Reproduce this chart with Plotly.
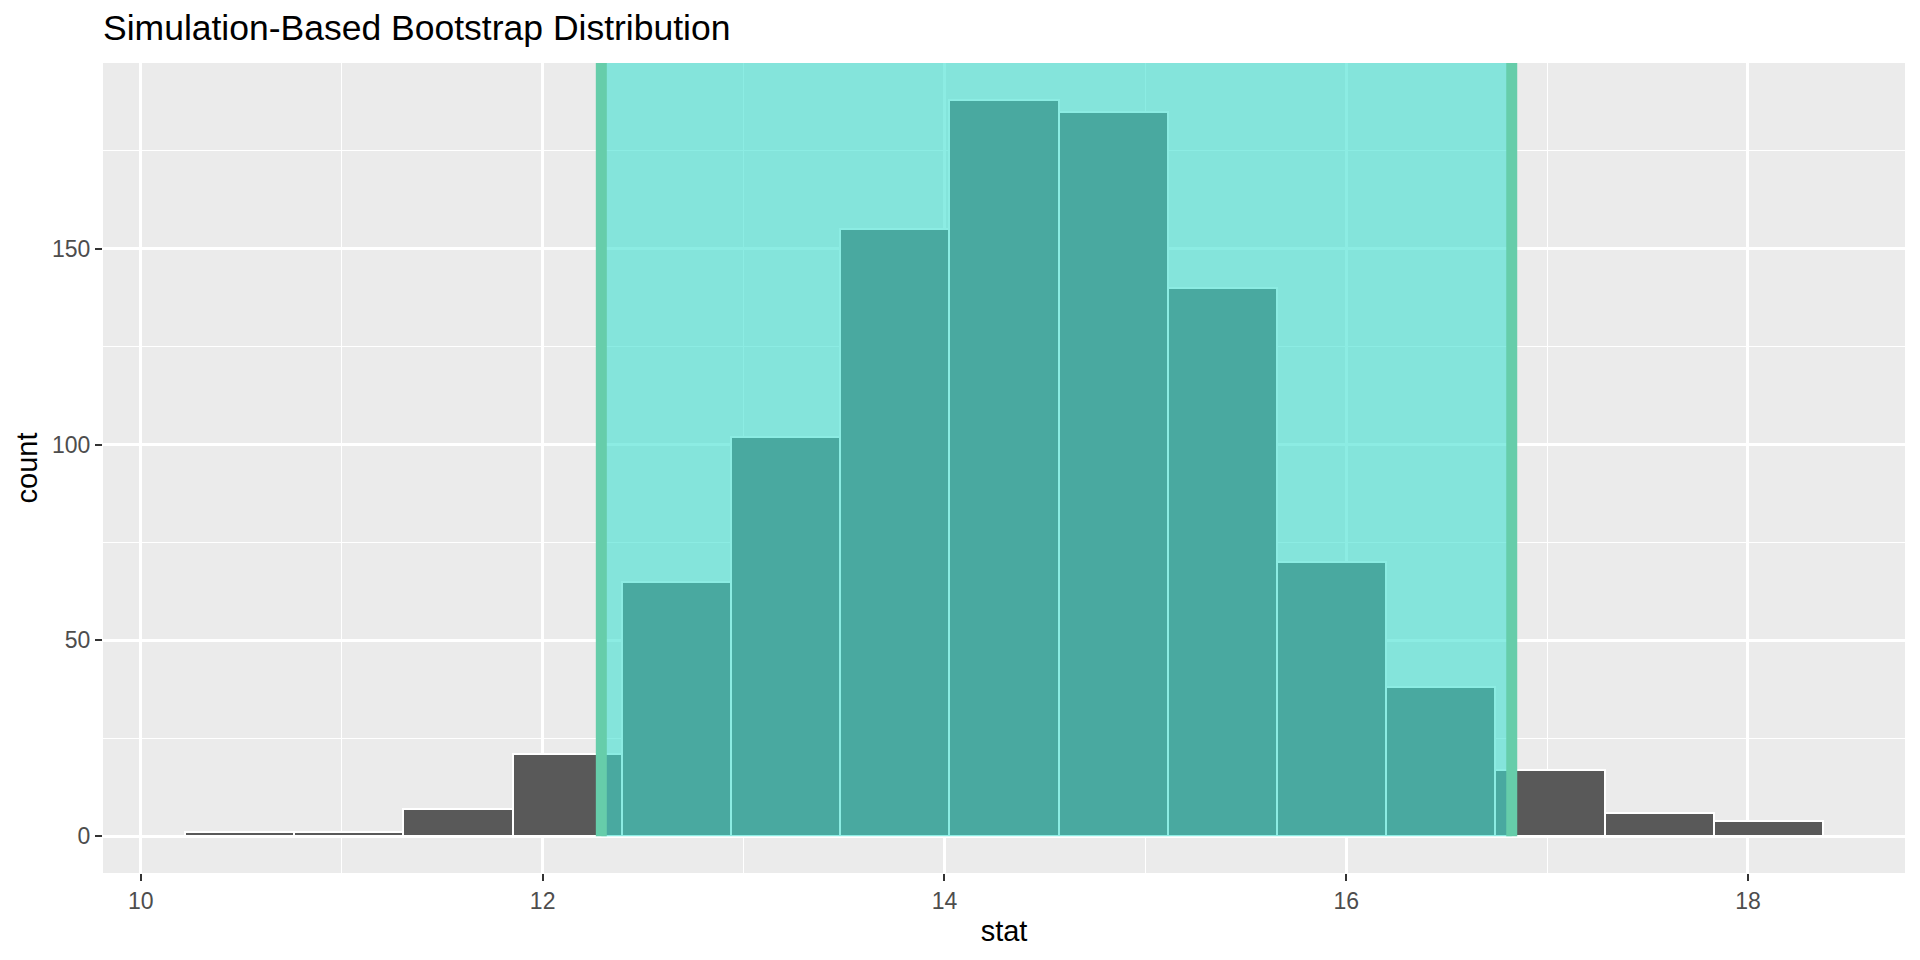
import plotly.graph_objects as go

# bootstrap histogram (15 bins)
bin_centers = [10.491, 11.034, 11.578, 12.122, 12.665, 13.209, 13.753, 14.296,
               14.840, 15.383, 15.927, 16.471, 17.014, 17.558, 18.102]
bin_width = 0.5437
counts = [1, 1, 7, 21, 65, 102, 155, 188, 185, 140, 70, 38, 17, 6, 4]

# confidence interval endpoints
ci_lower = 12.292
ci_upper = 16.824

x_ticks = [10, 12, 14, 16, 18]
y_ticks = [0, 50, 100, 150]

FONT = "Liberation Sans"

# ggplot style 5% padding on both axes
x_lo = bin_centers[0] - bin_width / 2
x_hi = bin_centers[-1] + bin_width / 2
x_pad = (x_hi - x_lo) * 0.05
y_pad = max(counts) * 0.05
x_range = [x_lo - x_pad, x_hi + x_pad]
y_range = [-y_pad, max(counts) + y_pad]

fig = go.Figure()

fig.add_trace(go.Bar(
    x=bin_centers,
    y=counts,
    width=bin_width,
    marker=dict(color="#595959", line=dict(color="white", width=2)),
    showlegend=False,
))

# shaded interval drawn over the bars, from 0 up to the top of the panel
fig.add_shape(type="rect", xref="x", yref="y",
              x0=ci_lower, x1=ci_upper, y0=0, y1=y_range[1],
              fillcolor="#40E0D0", opacity=0.6, line_width=0, layer="above")
for v in (ci_lower, ci_upper):
    fig.add_shape(type="line", xref="x", yref="y",
                  x0=v, x1=v, y0=0, y1=y_range[1],
                  line=dict(color="#66CDAA", width=11), layer="above")

fig.update_layout(
    width=1920, height=960,
    margin=dict(l=103, r=15, t=63, b=87),
    paper_bgcolor="white",
    plot_bgcolor="#EBEBEB",
    bargap=0,
    font=dict(family=FONT, color="black"),
    title=dict(text="Simulation-Based Bootstrap Distribution",
               font=dict(size=35.5, color="black", family=FONT),
               x=0, xref="paper", xanchor="left",
               y=1 - 28 / 960, yref="container", yanchor="middle"),
)

fig.update_xaxes(
    range=x_range,
    tickvals=x_ticks,
    ticks="outside", ticklen=7, tickwidth=2, tickcolor="#333333",
    tickfont=dict(size=23, color="#4D4D4D", family=FONT),
    showgrid=True, gridcolor="white", gridwidth=2.6,
    minor=dict(dtick=1, tick0=11, showgrid=True, gridcolor="white", gridwidth=1.3),
    zeroline=False, showline=False,
    title=dict(text="stat", font=dict(size=29, color="black", family=FONT), standoff=8),
)

fig.update_yaxes(
    range=y_range,
    tickvals=y_ticks,
    ticks="outside", ticklen=7, tickwidth=2, tickcolor="#333333",
    tickfont=dict(size=23, color="#4D4D4D", family=FONT),
    showgrid=True, gridcolor="white", gridwidth=2.6,
    minor=dict(dtick=25, tick0=25, showgrid=True, gridcolor="white", gridwidth=1.3),
    zeroline=False, showline=False,
    title=dict(text="count", font=dict(size=29, color="black", family=FONT), standoff=5),
)

# drop the browser's default 8px body margin so the figure sits at 0,0
fig.write_html("out.html", config={"displayModeBar": False},
               post_script="document.body.style.margin='0';")
